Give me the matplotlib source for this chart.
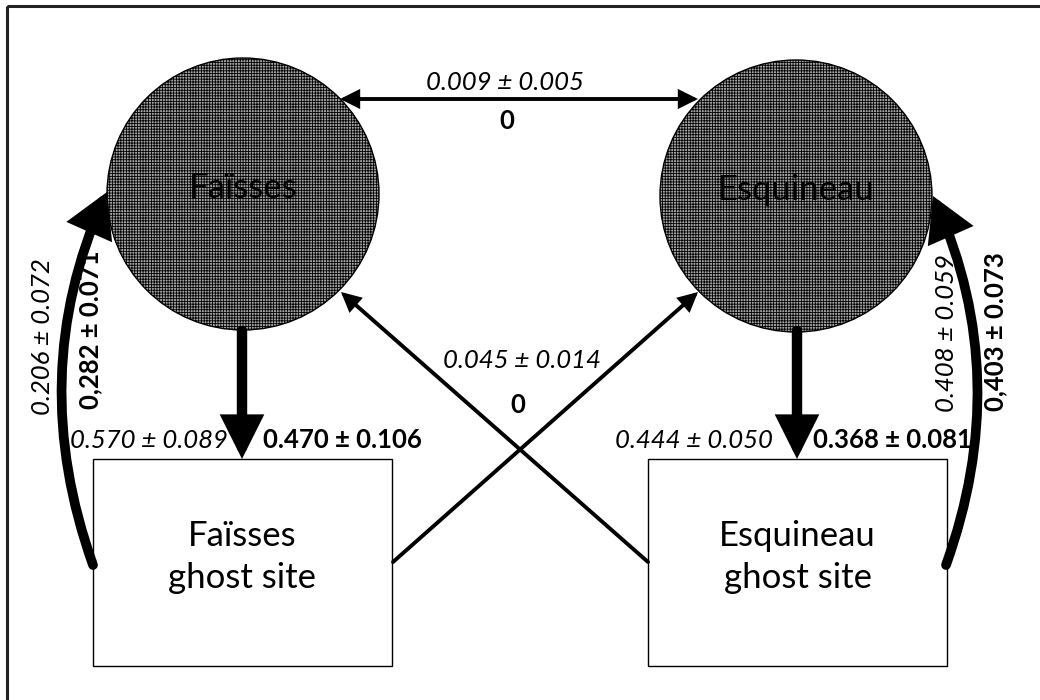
import matplotlib
matplotlib.use("Agg")
import matplotlib.pyplot as plt
from matplotlib.patches import Circle, Rectangle, FancyArrowPatch, ArrowStyle

plt.rcParams['font.family'] = ['Lato', 'DejaVu Sans']
plt.rcParams['hatch.linewidth'] = 0.6

# === DATOS ===
sites = ["Faïsses", "Esquineau"]
ghost_labels = ["Faïsses\nghost site", "Esquineau\nghost site"]
# tasa de migración entre sitios (cursiva) y estimación alternativa (negrita)
between_italic = "0.009 ± 0.005"
between_bold = "0"
cross_italic = "0.045 ± 0.014"
cross_bold = "0"
down_italic = ["0.570 ± 0.089", "0.444 ± 0.050"]
down_bold = ["0.470 ± 0.106", "0.368 ± 0.081"]
up_italic = ["0.206 ± 0.072", "0.408 ± 0.059"]
up_bold = ["0,282 ± 0.071", "0,403 ± 0.073"]

# === GEOMETRIA (pixeles) ===
circ_c = [(243, 194), (796, 196)]
circ_r = 136
box_xy = [(93, 459), (648, 459)]
box_w, box_h = 299, 207
FS = 18.5

fig = plt.figure(figsize=(10.4, 7), dpi=100)
ax = fig.add_axes([0, 0, 1, 1])
ax.set_xlim(0, 1040)
ax.set_ylim(700, 0)
ax.axis('off')

# marco exterior
ax.add_patch(Rectangle((7, 6), 1100, 800, fill=False, edgecolor='#222222', linewidth=2.2, clip_on=True))

for (cx, cy), name in zip(circ_c, sites):
    ax.add_patch(Circle((cx, cy), circ_r, facecolor='#a4a4a4', edgecolor='black',
                        hatch='++++++', linewidth=1.0))
    ax.text(cx, cy - 6, name, ha='center', va='center', fontsize=25, color='black')

for (bx, by), name in zip(box_xy, ghost_labels):
    ax.add_patch(Rectangle((bx, by), box_w, box_h, facecolor='white', edgecolor='black', linewidth=1.0))
    ax.text(bx + box_w / 2, by + 98, name, ha='center', va='center', fontsize=25,
            linespacing=1.4)


def arrow(p1, p2, lw, hl, hw, style='-|>', rad=0.0):
    st = ArrowStyle(style, head_length=hl, head_width=hw)
    a = FancyArrowPatch(p1, p2, arrowstyle=st, mutation_scale=1, linewidth=lw,
                        color='black', shrinkA=0, shrinkB=0,
                        connectionstyle=f'arc3,rad={rad}', joinstyle='miter')
    ax.add_patch(a)


# flecha entre sitios
arrow((340, 99), (698, 99), 2.8, 10, 5, style='<|-|>')
ax.text(505, 82, between_italic, ha='center', va='center', fontsize=FS, style='italic')
ax.text(507, 121, between_bold, ha='center', va='center', fontsize=FS, weight='bold')

# flechas hacia los sitios fantasma
for x, it, bd, gl, gr in zip([242, 797], down_italic, down_bold, [14, 24], [21, 16]):
    arrow((x, 331), (x, 459), 7.5, 20, 10)
    ax.text(x - gl, 440, it, ha='right', va='center', fontsize=FS, style='italic')
    ax.text(x + gr, 440, bd, ha='left', va='center', fontsize=FS, weight='bold')

# flechas cruzadas
arrow((393, 562), (698, 292), 2.8, 10, 5)
arrow((648, 562), (341, 292), 2.8, 10, 5)
ax.text(522, 361, cross_italic, ha='center', va='center', fontsize=FS, style='italic')
ax.text(518, 405, cross_bold, ha='center', va='center', fontsize=FS, weight='bold')

# flechas curvas de retorno
arrow((93, 565), (107, 192), 7, 21, 12, rad=-0.2)
arrow((946, 565), (933, 196), 7, 21, 12, rad=0.2)
ax.text(43, 337, up_italic[0], ha='center', va='center', rotation=90, fontsize=FS, style='italic')
ax.text(90, 330, up_bold[0], ha='center', va='center', rotation=90, fontsize=FS, weight='bold')
ax.text(947, 333, up_italic[1], ha='center', va='center', rotation=90, fontsize=FS, style='italic')
ax.text(995, 332, up_bold[1], ha='center', va='center', rotation=90, fontsize=FS, weight='bold')

fig.savefig("out.png", dpi=100)
